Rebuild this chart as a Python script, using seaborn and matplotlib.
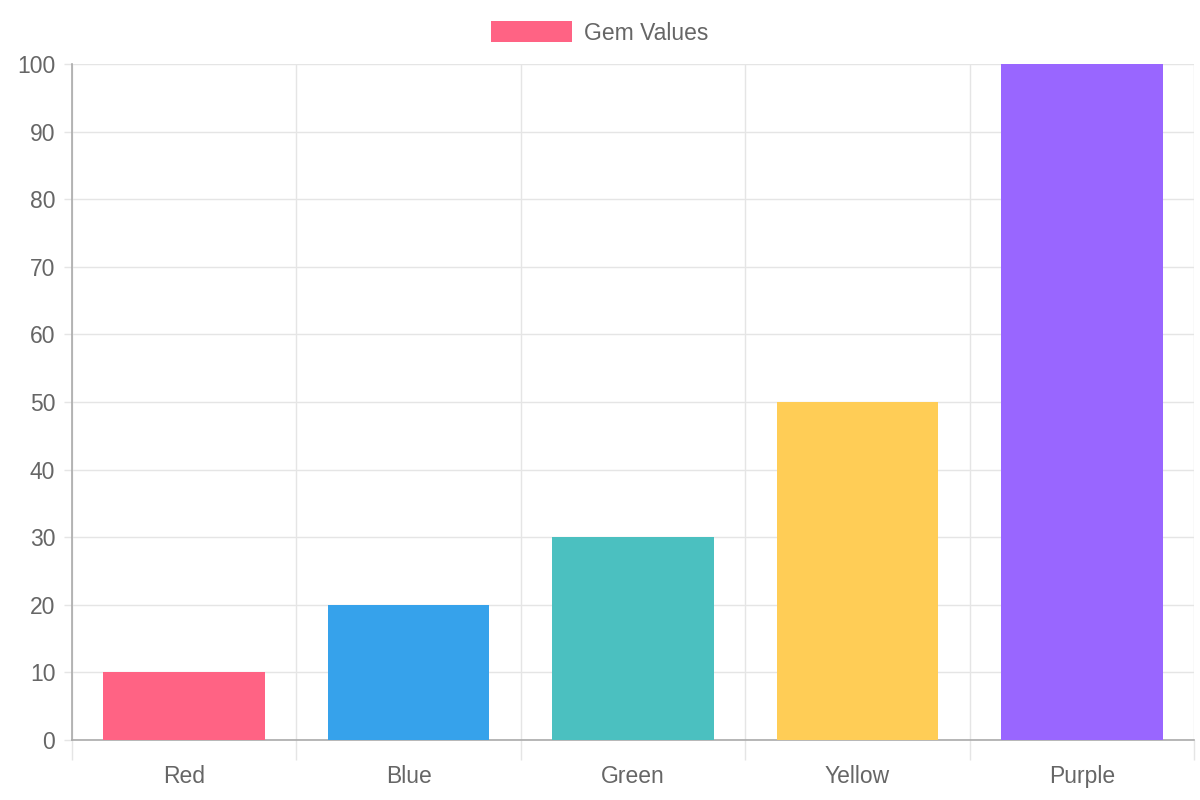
import numpy as np
import pandas as pd
import matplotlib
matplotlib.use('Agg')
import matplotlib.pyplot as plt
import seaborn as sns
from matplotlib.patches import Patch

sns.set_theme(style='white')
plt.rcParams['font.family'] = ['Liberation Sans', 'DejaVu Sans']

gems = ['Red', 'Blue', 'Green', 'Yellow', 'Purple']
values = [10, 20, 30, 50, 100]
colors = ['#FF6384', '#36A2EB', '#4BC0C0', '#FFCD56', '#9966FF']
label = 'Gem Values'

df = pd.DataFrame({'gem': gems, 'value': values})

fig = plt.figure(figsize=(12, 8), dpi=100)
ax = fig.add_axes([0.06, 0.075, 0.935, 0.845])

sns.barplot(data=df, x='gem', y='value', hue='gem', palette=colors,
            width=0.72, saturation=1, legend=False, ax=ax, zorder=3,
            linewidth=0, edgecolor='none')

text_col = '#666666'
grid_col = '#e5e5e5'

ax.set_xlim(-0.5, len(gems) - 0.5)
ax.set_ylim(0, 100)
ax.set_yticks(np.arange(0, 101, 10))
ax.set_xlabel('')
ax.set_ylabel('')

# category boundaries as minor ticks with long tick marks
ax.set_xticks(np.arange(-0.5, len(gems), 1.0), minor=True)
ax.tick_params(which='both', bottom=True, left=True)
ax.tick_params(axis='x', which='major', length=0, pad=18, labelsize=16.5, labelcolor=text_col)
ax.tick_params(axis='x', which='minor', length=14.5, width=1, color=grid_col)
ax.tick_params(axis='y', which='major', length=6, width=1, color=grid_col, pad=6,
               labelsize=16.5, labelcolor=text_col)

ax.grid(True, axis='y', which='major', color=grid_col, lw=1, zorder=0)
ax.grid(True, axis='x', which='minor', color=grid_col, lw=1, zorder=0)
ax.set_axisbelow(True)

for s in ['top', 'right']:
    ax.spines[s].set_visible(False)
ax.spines['left'].set_color('#aaaaaa')
ax.spines['bottom'].set_color('#aaaaaa')
ax.spines['left'].set_linewidth(1.2)
ax.spines['bottom'].set_linewidth(1.2)

handle = Patch(facecolor=colors[0], edgecolor='none', label=label)
fig.legend(handles=[handle], loc='center', bbox_to_anchor=(0.5, 0.959),
           frameon=False, fontsize=16.5, labelcolor=text_col,
           handlelength=3.5, handleheight=1.05, handletextpad=0.55)

fig.savefig('out.png', dpi=100)
